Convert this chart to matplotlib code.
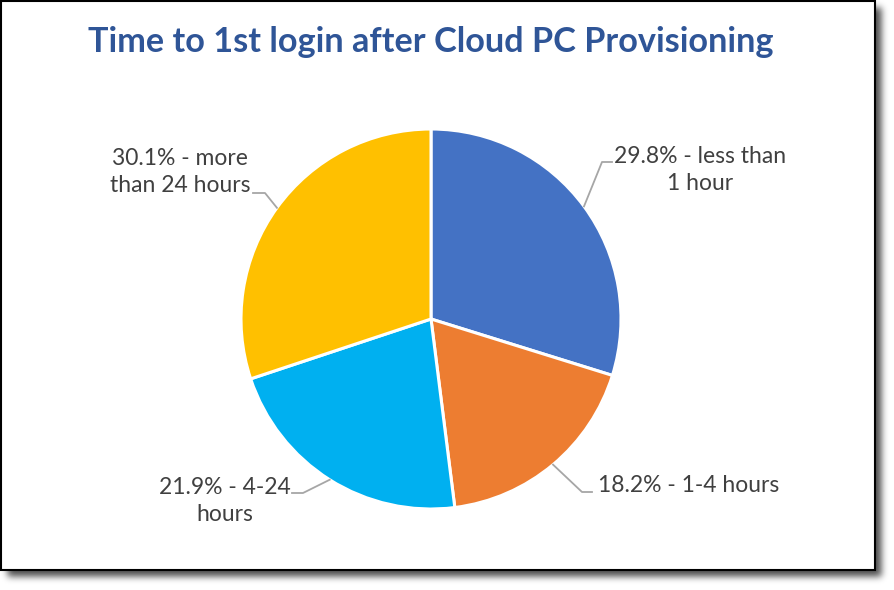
import numpy as np
import matplotlib
matplotlib.use("Agg")
import matplotlib.pyplot as plt
from matplotlib.patches import Rectangle

# ---- data ----
title = "Time to 1st login after Cloud PC Provisioning"
categories = ["less than\n1 hour", "1-4 hours", "4-24\nhours", "more\nthan 24 hours"]
values = [29.8, 18.2, 21.9, 30.1]
label_texts = ["29.8% - less than\n1 hour", "18.2% - 1-4 hours",
               "21.9% - 4-24\nhours", "30.1% - more\nthan 24 hours"]
colors = ["#4472C4", "#ED7D31", "#00B0F0", "#FFC000"]

W, H = 895, 590
fig = plt.figure(figsize=(W / 100, H / 100), dpi=100)
ax = fig.add_axes([0, 0, 1, 1])

def py(y):  # pixel-from-top to data y
    return H - y

# ---- shadow ----
mask = np.zeros((H, W))
left, top, right, bottom = 1, 1, 875, 570
off = 6
mask[top + off:bottom + off, left + off:right + off] = 1.0
def blur(a, s):
    k = np.exp(-0.5 * (np.arange(-3 * s, 3 * s + 1) / s) ** 2)
    k /= k.sum()
    a = np.apply_along_axis(lambda r: np.convolve(r, k, mode="same"), 1, a)
    a = np.apply_along_axis(lambda c: np.convolve(c, k, mode="same"), 0, a)
    return a
sh = blur(mask, 3.5)
rgba = np.zeros((H, W, 4))
rgba[..., 3] = sh * 0.7
ax.imshow(rgba, extent=(0, W, 0, H), origin="upper", zorder=0, interpolation="nearest")

ax.add_patch(Rectangle((left, py(bottom)), right - left, bottom - top,
                       facecolor="white", edgecolor="black", lw=1.5, zorder=1))

# ---- title ----
ax.text(431, py(42), title, ha="center", va="center", fontsize=24.7,
        fontweight="bold", color="#2F5597", family="Lato", zorder=5)

# ---- pie ----
cx, cy, R = 431, py(319), 190
wedges, _ = ax.pie(values, colors=colors, startangle=90, counterclock=False,
                   center=(cx, cy), radius=R, frame=True,
                   wedgeprops=dict(edgecolor="white", linewidth=2.2))
for w in wedges:
    w.set_zorder(3)
ax.set_xlim(0, W)
ax.set_ylim(0, H)
ax.set_aspect("equal")
ax.axis("off")

# label layout: (elbow x, elbow y, end x, text x, text y, ha)
layout = [
    (602, 162, 612, 700, 170, "center"),
    (582, 492, 592, 598, 486, "left"),
    (303, 493, 292, 225, 501, "center"),
    (265, 193, 253, 180, 172, "center"),
]
cum = 0
for v, txt, (ex, ey, hx, tx, ty, ha) in zip(values, label_texts, layout):
    mid = 90 - (cum + v / 2) / sum(values) * 360
    cum += v
    sx = cx + R * np.cos(np.radians(mid))
    sy = cy + R * np.sin(np.radians(mid))
    ax.plot([sx, ex, hx], [sy, py(ey), py(ey)], color="#A6A6A6", lw=1.3, zorder=4)
    ax.text(tx, py(ty), txt, ha=ha, va="center", fontsize=16.5, color="#404040",
            family="Lato", linespacing=1.32, multialignment="center", zorder=5)

fig.savefig("out.png", dpi=100)
